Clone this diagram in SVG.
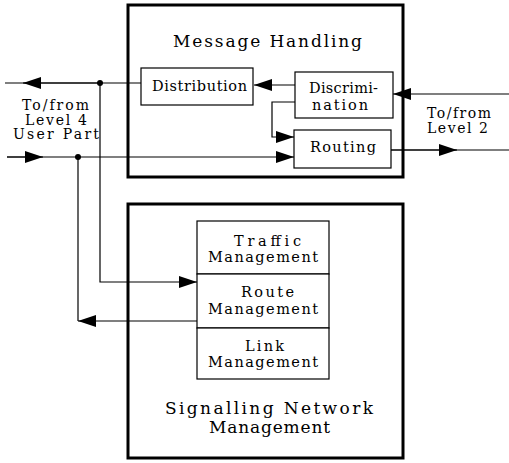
<svg xmlns="http://www.w3.org/2000/svg" width="509" height="463" viewBox="0 0 509 463">
<style>
text{font-family:'DejaVu Serif','Liberation Serif','Times New Roman',serif;fill:#000;text-anchor:middle}
.t{font-size:17px}
.s{font-size:14.5px}
.l{font-size:14px}
.big{fill:none;stroke:#000;stroke-width:3}
.box{fill:#fff;stroke:#000;stroke-width:1.2}
.ln{fill:none;stroke:#000;stroke-width:1.2}
</style>
<defs>
<marker id="ah" viewBox="0 0 18 12" refX="18" refY="6" markerWidth="18" markerHeight="12" markerUnits="userSpaceOnUse" orient="auto">
<path d="M0,0 L18,6 L0,12 Z" fill="#000"/>
</marker>
</defs>
<rect width="509" height="463" fill="#fff"/>
<g id="message-handling">
<rect class="big" x="128" y="5" width="275" height="172"/>
<text class="t" x="267.5" y="47" textLength="189" lengthAdjust="spacing">Message Handling</text>
</g>
<g id="signalling-network-management">
<rect class="big" x="128" y="204" width="275" height="254"/>
<text class="t" x="269" y="414" textLength="208" lengthAdjust="spacing">Signalling Network</text>
<text class="t" x="269.5" y="433" textLength="121" lengthAdjust="spacing">Management</text>
</g>
<g id="connectors">
<path class="ln" d="M141,83 L5,83"/>
<path class="ln" d="M100,83 L23,83" marker-end="url(#ah)"/>
<path class="ln" d="M7,157 L43,157" marker-end="url(#ah)"/>
<path class="ln" d="M7,157 L294,157" marker-end="url(#ah)"/>
<path class="ln" d="M295,85 L254,85" marker-end="url(#ah)"/>
<path class="ln" d="M295,102 L272,102 L272,137 L294,137" marker-end="url(#ah)"/>
<path class="ln" d="M509,94 L393,94" marker-end="url(#ah)"/>
<path class="ln" d="M391,150 L457,150" marker-end="url(#ah)"/>
<path class="ln" d="M391,150 L509,150"/>
<path class="ln" d="M100,83 L100,282 L197,282" marker-end="url(#ah)"/>
<path class="ln" d="M197,321 L78,321" marker-end="url(#ah)"/>
<path class="ln" d="M78,157 L78,321"/>
<circle cx="100" cy="83" r="3" fill="#000"/>
<circle cx="78" cy="157" r="3" fill="#000"/>
</g>
<g id="distribution">
<rect class="box" x="141" y="68" width="112" height="37"/>
<text class="s" x="199.5" y="91" textLength="95" lengthAdjust="spacing">Distribution</text>
</g>
<g id="discrimination">
<rect class="box" x="295" y="72" width="98" height="46"/>
<text class="s" x="343.5" y="93" textLength="69" lengthAdjust="spacing">Discrimi-</text>
<text class="s" x="340" y="110" textLength="56" lengthAdjust="spacing">nation</text>
</g>
<g id="routing">
<rect class="box" x="294" y="130" width="97" height="38"/>
<text class="s" x="343" y="152" textLength="66" lengthAdjust="spacing">Routing</text>
</g>
<g id="traffic-management">
<rect class="box" x="197" y="221" width="132" height="53"/>
<text class="s" x="267.5" y="246" textLength="67" lengthAdjust="spacing">Traffic</text>
<text class="s" x="263" y="262" textLength="110" lengthAdjust="spacing">Management</text>
</g>
<g id="route-management">
<rect class="box" x="197" y="274" width="132" height="54"/>
<text class="s" x="267.5" y="297" textLength="53" lengthAdjust="spacing">Route</text>
<text class="s" x="263" y="314" textLength="110" lengthAdjust="spacing">Management</text>
</g>
<g id="link-management">
<rect class="box" x="197" y="328" width="132" height="51"/>
<text class="s" x="264.5" y="351" textLength="39" lengthAdjust="spacing">Link</text>
<text class="s" x="263" y="367" textLength="110" lengthAdjust="spacing">Management</text>
</g>
<g id="level4-label">
<text class="l" x="55.5" y="110" textLength="67" lengthAdjust="spacing">To/from</text>
<text class="l" x="56" y="124.5" textLength="62" lengthAdjust="spacing">Level 4</text>
<text class="l" x="56" y="139" textLength="86" lengthAdjust="spacing">User Part</text>
</g>
<g id="level2-label">
<text class="l" x="459" y="118" textLength="64" lengthAdjust="spacing">To/from</text>
<text class="l" x="457.5" y="133" textLength="61" lengthAdjust="spacing">Level 2</text>
</g>
</svg>
